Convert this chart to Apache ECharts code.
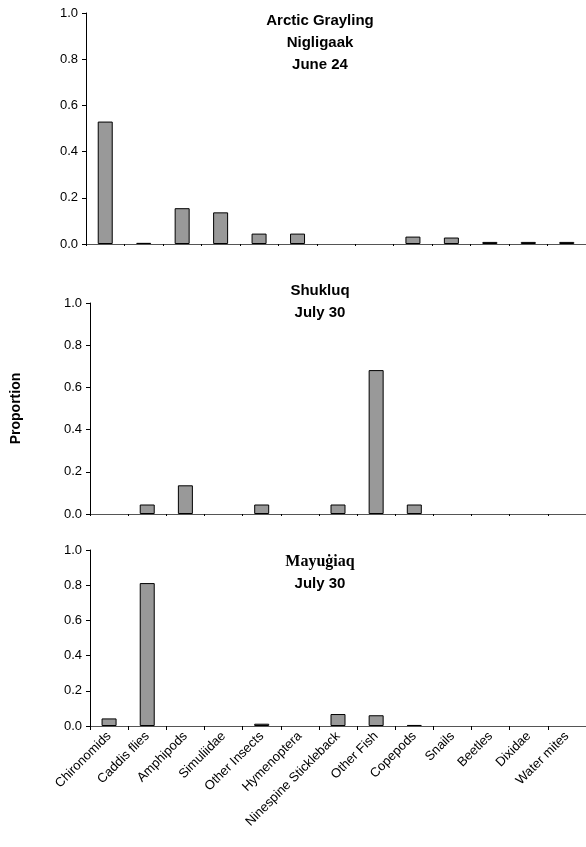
<!DOCTYPE html>
<html>
<head>
<meta charset="utf-8">
<script src="https://cdn.jsdelivr.net/npm/echarts@6/dist/echarts.min.js"></script>
<style>
  html, body { margin: 0; padding: 0; background: #fff; }
  #main { width: 586px; height: 847px; }
</style>
</head>
<body>
<div id="main"></div>
<script>
var myChart = echarts.init(document.getElementById('main'));

// prey categories (same for all three panels)
var categories = ['Chironomids', 'Caddis flies', 'Amphipods', 'Simuliidae', 'Other Insects',
    'Hymenoptera', 'Ninespine Stickleback', 'Other Fish', 'Copepods', 'Snails',
    'Beetles', 'Dixidae', 'Water mites'];

// proportions
var nigligaak = [0.53, 0.005, 0.155, 0.137, 0.045, 0.045, 0, 0, 0.032, 0.028, 0.009, 0.009, 0.009];
var shukluq   = [0, 0.045, 0.136, 0, 0.045, 0, 0.045, 0.682, 0.045, 0, 0, 0, 0];
var mayugiaq  = [0.043, 0.812, 0, 0, 0.013, 0, 0.068, 0.061, 0.006, 0, 0, 0, 0];

var font = 'Liberation Sans, Arial, sans-serif';

function yAxisOf(i, name) {
    return {
        gridIndex: i,
        type: 'value',
        min: 0,
        max: 1,
        interval: 0.2,
        name: name || '',
        nameLocation: 'middle',
        nameGap: 67,
        nameTextStyle: {color: '#000', fontFamily: font, fontWeight: 'bold', fontSize: 14},
        axisLine: {show: true, lineStyle: {color: '#000', width: 1}},
        axisTick: {show: true, length: 4, lineStyle: {color: '#000'}},
        splitLine: {show: false},
        axisLabel: {
            color: '#000', fontFamily: font, fontSize: 13, margin: 8,
            formatter: function (v) { return v.toFixed(1); }
        }
    };
}

function xAxisOf(i, showLabels) {
    return {
        gridIndex: i,
        type: 'category',
        data: categories,
        boundaryGap: true,
        axisLine: {show: true, lineStyle: {color: '#555', width: 1}},
        axisTick: {show: true, length: showLabels ? 4 : 2, lineStyle: {color: '#000'}},
        axisLabel: {
            show: showLabels, interval: 0, rotate: 45, margin: 8,
            color: '#000', fontFamily: font, fontSize: 13
        }
    };
}

function barsOf(i, data) {
    return {
        type: 'bar',
        xAxisIndex: i,
        yAxisIndex: i,
        // zero proportions draw nothing
        data: data.map(function (v) { return v === 0 ? '-' : v; }),
        barWidth: 15,
        itemStyle: {color: '#999999', borderColor: '#000', borderWidth: 1},
        silent: true
    };
}

var titleStyle = {color: '#000', fontFamily: font, fontWeight: 'bold', fontSize: 15, lineHeight: 22};

option = {
    animation: false,
    backgroundColor: '#fff',
    title: [
        {text: 'Arctic Grayling\nNigligaak\nJune 24', left: 320, top: 10, textAlign: 'center',
            textStyle: titleStyle, padding: 0},
        {text: 'Shukluq\nJuly 30', left: 320, top: 280, textAlign: 'center',
            textStyle: titleStyle, padding: 0},
        {text: '{a|Mayuġiaq}\n{b|July 30}', left: 320, top: 551, textAlign: 'center', padding: 0,
            textStyle: {
                rich: {
                    a: {fontFamily: 'Liberation Serif, Times New Roman, serif', fontWeight: 'bold',
                        fontSize: 16, color: '#000', lineHeight: 22},
                    b: titleStyle
                }
            }}
    ],
    grid: [
        {left: 86, right: 0, top: 13, height: 231},
        {left: 90, right: 0, top: 303, height: 211},
        {left: 90, right: 0, top: 550, height: 176}
    ],
    xAxis: [xAxisOf(0, false), xAxisOf(1, false), xAxisOf(2, true)],
    yAxis: [yAxisOf(0), yAxisOf(1, 'Proportion'), yAxisOf(2)],
    series: [barsOf(0, nigligaak), barsOf(1, shukluq), barsOf(2, mayugiaq)]
};

myChart.setOption(option);
</script>
</body>
</html>
